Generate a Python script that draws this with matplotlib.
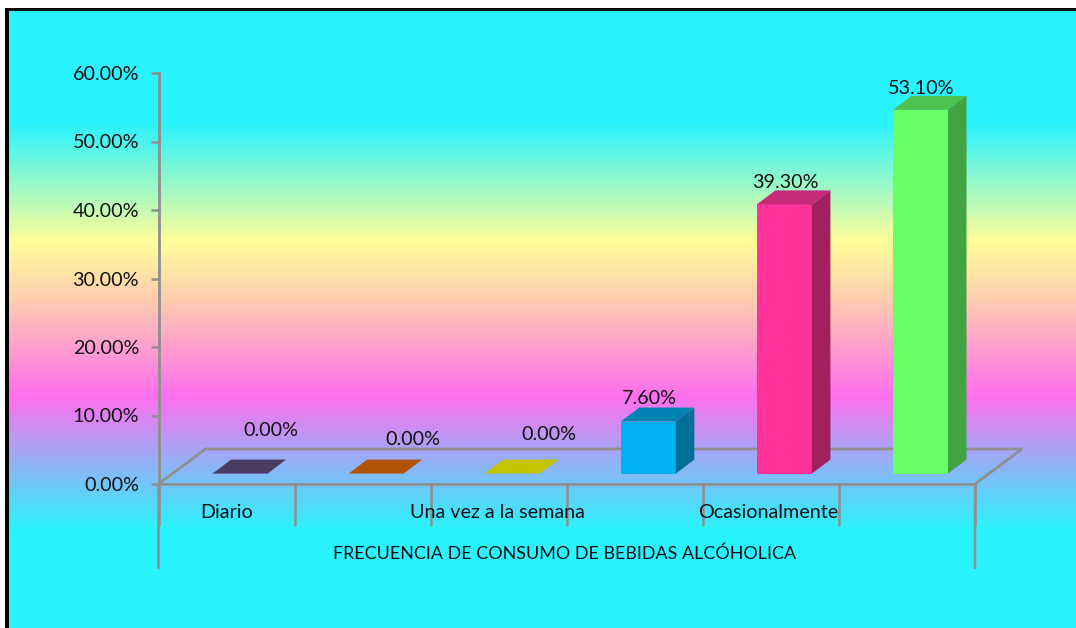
import matplotlib
matplotlib.use("Agg")
import matplotlib.pyplot as plt
import numpy as np
from matplotlib.colors import LinearSegmentedColormap, to_rgb
from matplotlib.patches import Polygon, Rectangle

# Data
categories = ["Diario", "", "Una vez a la semana", "", "Ocasionalmente", ""]
values = [0.0, 0.0, 0.0, 7.6, 39.3, 53.1]
value_labels = ["0.00%", "0.00%", "0.00%", "7.60%", "39.30%", "53.10%"]
front_colors = ["#4A3B63", "#B25205", "#C4C400", "#00B0F0", "#FF3399", "#66FF66"]
top_colors = ["#4A3B63", "#B25205", "#C4C400", "#0083B3", "#C72A78", "#50C250"]
side_colors = ["#4A3B63", "#B25205", "#C4C400", "#006F99", "#A3205F", "#42A342"]
y_ticks = [0, 10, 20, 30, 40, 50, 60]
y_tick_labels = ["0.00%", "10.00%", "20.00%", "30.00%", "40.00%", "50.00%", "60.00%"]
x_title = "FRECUENCIA DE CONSUMO DE BEBIDAS ALCÓHOLICA"

W, H = 1076, 628
plt.rcParams["font.family"] = ["Lato", "DejaVu Sans"]
fig = plt.figure(figsize=(W / 100, H / 100), dpi=100, facecolor="white")

# Background gradient with black frame
bg = fig.add_axes([0, 0, 1, 1])
bg.axis("off")
stops = [(0.0, "#29F3FF"), (122, "#29F3FF"), (240, "#FFFF99"), (300, "#FFCDB0"),
         (397, "#FF6FEF"), (530, "#29F3FF"), (628, "#29F3FF")]
cmap = LinearSegmentedColormap.from_list("bg", [(p / 628, to_rgb(c)) for p, c in stops])
bg.imshow(np.linspace(0, 1, 628).reshape(-1, 1), cmap=cmap, aspect="auto",
          extent=(5, W, H, 0), vmin=0, vmax=1, zorder=0)
bg.set_xlim(0, W)
bg.set_ylim(H, 0)
bg.add_patch(Rectangle((0, 0), W, 8, fc="white", ec="none", zorder=1))
bg.add_patch(Rectangle((5, 8), 4, H - 8, fc="black", ec="none", zorder=2))
bg.add_patch(Rectangle((5, 8), W - 5, 3, fc="black", ec="none", zorder=2))

# Chart axes: x in category units, y in percent
x0, x1, y0, y60 = 158.5, 975, 484, 73
ax = fig.add_axes([x0 / W, 1 - y0 / H, (x1 - x0) / W, (y0 - y60) / H])
ax.patch.set_alpha(0)
n = len(categories)
ax.set_xlim(0, n)
ax.set_ylim(0, 60)
for s in ["top", "right"]:
    ax.spines[s].set_visible(False)
GREY = "#8F8F8F"
LW = 2.0
ax.spines["left"].set_color(GREY)
ax.spines["left"].set_linewidth(LW)
ax.spines["bottom"].set_color(GREY)
ax.spines["bottom"].set_linewidth(LW)
ax.set_yticks(y_ticks)
ax.set_yticklabels(y_tick_labels, fontsize=14.2, color="#111111")
ax.tick_params(axis="y", length=5.5, width=1.8, color=GREY, pad=8.5)
ax.set_xticks(np.arange(n + 1))
ax.set_xticklabels([])
ax.tick_params(axis="x", length=30, width=1.8, color=GREY)

# Pixel sizes converted to data units
ux = 136.0
uy = (y0 - y60) / 60
floor_dx, floor_dy = 47 / ux, 35 / uy

# Floor back lines
ax.plot([0, floor_dx, n + floor_dx, n], [0, floor_dy, floor_dy, 0],
        color=GREY, lw=LW, clip_on=False, zorder=1, solid_joinstyle="miter")

# Bars
bw = 55 / ux
bar_dx, bar_dy = 18.5 / ux, 14 / uy
base = 10.4 / uy
shift = 81.5 / ux - 0.5
centers = np.arange(n) + 0.5 + shift
ax.bar(centers, values, width=bw, bottom=base, color=front_colors, zorder=3, clip_on=False)
for c, v, tc, sc in zip(centers, values, top_colors, side_colors):
    l, r = c - bw / 2, c + bw / 2
    t = base + v
    ax.add_patch(Polygon([(l, t), (r, t), (r + bar_dx, t + bar_dy), (l + bar_dx, t + bar_dy)],
                         fc=tc, ec="none", zorder=3, clip_on=False))
    ax.add_patch(Polygon([(r, base), (r + bar_dx, base + bar_dy), (r + bar_dx, t + bar_dy), (r, t)],
                         fc=sc, ec="none", zorder=3, clip_on=False))

# Value labels (label centre offsets from each bar, in data units)
label_dx = [0.225, 0.27, 0.27, 0.005, 0.005, 0.005]
label_dy = [6.3, 5.05, 5.65, 3.4, 3.2, 3.1]
for c, v, txt, dx, dy in zip(centers, values, value_labels, label_dx, label_dy):
    ax.text(c + dx, base + v + dy, txt, ha="center", va="center", fontsize=14.2,
            color="#111111", clip_on=False, zorder=4)

# Category labels and long outer ticks
cat_shift = [0, 0, -1, 0, -2.5, 0]
for i, (cat, sh) in enumerate(zip(categories, cat_shift)):
    if cat:
        ax.annotate(cat, (i + 0.5, 0), xytext=(sh, -28.5), textcoords="offset pixels",
                    ha="center", va="center", fontsize=14.2, color="#111111",
                    annotation_clip=False)
for edge in (0, n):
    ax.annotate("", (edge, 0), xytext=(0, -84), textcoords="offset pixels",
                arrowprops=dict(arrowstyle="-", color=GREY, lw=1.8, shrinkA=0, shrinkB=0),
                annotation_clip=False)
ax.annotate(x_title, (n * (565 - x0) / (x1 - x0), 0), xytext=(0, -70), textcoords="offset pixels",
            ha="center", va="center", fontsize=12.9, color="#111111", annotation_clip=False)

fig.savefig("out.png", dpi=100)
